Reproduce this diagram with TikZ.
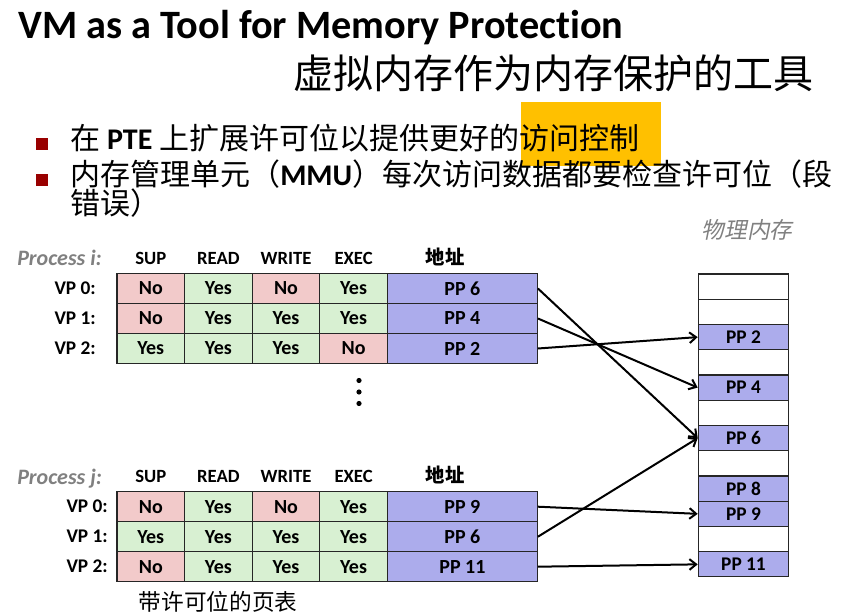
\documentclass[tikz,border=0pt]{standalone}
\usepackage{fontspec}
\setmainfont[Ligatures=NoCommon]{Carlito}
\newfontfamily\cjk{Noto Sans CJK SC}
\newfontfamily\cjkslant[FakeSlant=0.2]{Noto Sans CJK SC}
\usetikzlibrary{arrows.meta}
\definecolor{nored}{RGB}{242,202,202}
\definecolor{yesgreen}{RGB}{216,240,210}
\definecolor{ppblue}{RGB}{172,172,236}
\definecolor{hilite}{RGB}{255,192,0}
\definecolor{bulletred}{RGB}{153,0,0}
\definecolor{labelgray}{RGB}{128,128,128}

\begin{document}
\begin{tikzpicture}[x=0.75pt,y=-0.75pt,
    txt/.style={inner sep=0pt},
    cell/.style={draw=black!85,line width=0.8pt,minimum width=50.7pt,minimum height=22.5pt,
      inner sep=0pt,font=\fontsize{15}{17}\selectfont\bfseries},
    ppcell/.style={cell,fill=ppblue,minimum width=112.5pt},
    slot/.style={draw=black!85,line width=0.8pt,minimum width=67.9pt,minimum height=18.9pt,
      inner sep=0pt,font=\fontsize{14.5}{16}\selectfont\bfseries},
    head/.style={txt,anchor=base,font=\fontsize{14}{16}\selectfont\bfseries},
    ptr/.style={line width=1.5pt,-{Straight Barb[length=5pt,width=8pt]}}]
  \useasboundingbox (0,0) rectangle (868,613);
  % title and the two bullets, the access-control words on an orange patch
  \node[txt,anchor=base west,font=\fontsize{30.2}{32}\selectfont\bfseries] (title) at (18,38.3)
    {VM as a Tool for Memory Protection};
  \node[txt,anchor=base west,font=\cjk\fontsize{30}{30}\selectfont] (subtitle) at (293,89)
    {虚拟内存作为内存保护的工具};
  \fill[hilite] (521,102.5) rectangle (661,166.5);
  \node[fill=bulletred,minimum size=9pt,inner sep=0pt] (b1) at (41.5,144) {};
  \node[fill=bulletred,minimum size=9pt,inner sep=0pt] (b2) at (41.5,180) {};
  \node[txt,anchor=base west,font=\fontsize{22.5}{24}\selectfont] (l1) at (70,149.5)
    {{\cjk 在}~\textbf{PTE}~{\cjk 上扩展许可位以提供更好的访问控制}};
  \node[txt,anchor=base west,font=\fontsize{22.5}{24}\selectfont] (l2) at (70,185.5)
    {{\cjk 内存管理单元（}\textbf{MMU}{\cjk ）每次访问数据都要检查许可位（段}};
  \node[txt,anchor=base west,font=\fontsize{22.5}{24}\selectfont] (l3) at (70,214.5)
    {{\cjk 错误）}};
  % the two page tables: 1 = Yes, 0 = No
  \foreach \t/\hy in {i/264,j/482.2}{
    \node[txt,anchor=base west,text=labelgray,font=\fontsize{16.5}{18}\selectfont\bfseries\itshape]
      (proc-\t) at (17,\hy+2) {Process \t:};
    \foreach \h [count=\c from 0] in {SUP,READ,WRITE,EXEC}
      \node[head] (\t-h\c) at (150.8+67.6*\c,\hy) {\h};
    \node[head,font=\cjk\bfseries\fontsize{14.5}{15}\selectfont] (\t-haddr) at (445,\hy) {地址};
  }
  \foreach \t/\vx/\y/\r/\vals/\pp in {
      i/96/288.5/0/{0,1,0,1}/6,
      i/96/318.5/1/{0,1,1,1}/4,
      i/96/348.5/2/{1,1,1,0}/2,
      j/108/506.7/0/{0,1,0,1}/9,
      j/108/536.7/1/{1,1,1,1}/6,
      j/108/566.7/2/{0,1,1,1}/11}{
    \foreach \v [count=\c from 0] in \vals {
      \ifnum\v=1 \node[cell,fill=yesgreen] (\t-\r-\c) at (150.8+67.6*\c,\y) {Yes};
      \else \node[cell,fill=nored] (\t-\r-\c) at (150.8+67.6*\c,\y) {No}; \fi
    }
    \node[ppcell] (\t-\r-pp) at (462.4,\y) {PP \pp};
    \node[txt,anchor=east,font=\fontsize{14.5}{16}\selectfont\bfseries] (\t-\r-vp) at (\vx,\y) {VP \r:};
  }
  \foreach \d in {380.5,392,403.5}
    \fill (359,\d) circle (2.6);
  \node[txt,font=\cjk\fontsize{17}{18}\selectfont] (caption) at (218,601.7) {带许可位的页表};
  % physical memory, 0 = empty slot
  \node[txt,text=labelgray,font=\cjkslant\fontsize{17}{18}\selectfont] (memlabel) at (747,230) {物理内存};
  \foreach \k/\n in {0/0,1/0,2/2,3/0,4/4,5/0,6/6,7/0,8/8,9/9,10/0,11/11}{
    \ifnum\n=0 \node[slot,fill=white] (m\k) at (743.5,286.6+25.25*\k) {};
    \else \node[slot,fill=ppblue] (m\k) at (743.5,286.6+25.25*\k) {PP \n}; \fi
  }
  \foreach \a/\b in {i-0/6,i-1/4,i-2/2,j-0/9,j-1/6,j-2/11}
    \draw[ptr] (\a-pp.east) -- (m\b.west);
\end{tikzpicture}
\end{document}
